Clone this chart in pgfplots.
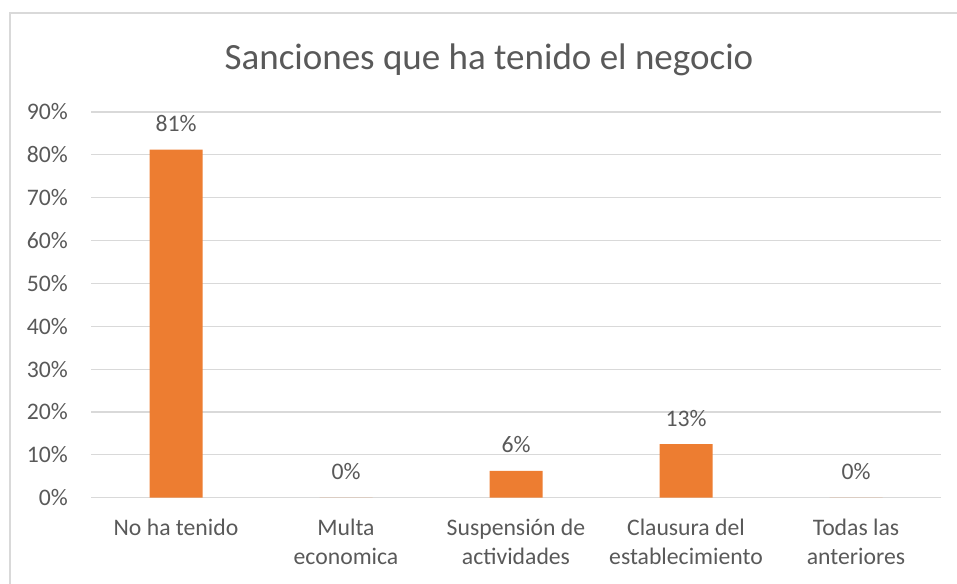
\documentclass[border=0pt]{standalone}
\usepackage{pgfplots}
\pgfplotsset{compat=1.18}
\usepackage{fontspec}
\setmainfont{Carlito}
\definecolor{barorange}{HTML}{ED7D31}
\definecolor{gridgray}{HTML}{D9D9D9}
\definecolor{txtgray}{HTML}{595959}
\begin{document}
\begin{tikzpicture}[x=1pt,y=1pt]
\useasboundingbox (0,0) rectangle (957,583);
\draw[gridgray, line width=1.2pt] (10,-5) -- (10,570) -- (965,570);
\node[anchor=base, inner sep=0pt, text=txtgray, font=\fontsize{37}{44}\selectfont] at (489,513) {Sanciones que ha tenido el negocio};
\begin{axis}[
  at={(91pt,85.3pt)}, anchor=south west,
  scale only axis, width=850pt, height=385.7pt,
  ymin=0, ymax=0.9, xmin=-0.5, xmax=4.5,
  ytick={0,0.1,0.2,0.3,0.4,0.5,0.6,0.7,0.8,0.9},
  yticklabels={0\%,10\%,20\%,30\%,40\%,50\%,60\%,70\%,80\%,90\%},
  xtick={0,1,2,3,4},
  xticklabels={No ha tenido, Multa\\economica, Suspensión de\\actividades, Clausura del\\establecimiento, Todas las\\anteriores},
  ymajorgrids, grid style={gridgray, line width=1.2pt},
  axis line style={draw=none},
  major tick length=0pt,
  tick label style={text=txtgray, font=\fontsize{23.7}{29.5}\selectfont, inner sep=0pt},
  yticklabel style={anchor=east, xshift=-23pt},
  xticklabel style={align=center, anchor=north, yshift=-21pt},
  clip=false,
]
\addplot[ybar, bar width=53pt, fill=barorange, draw=none,
  point meta=explicit symbolic,
  nodes near coords,
  every node near coord/.append style={anchor=base, yshift=18pt, inner sep=0pt, text=txtgray, font=\fontsize{23.7}{29.5}\selectfont},
] coordinates {
  (0,0.8125) [81\%]
  (1,0) [0\%]
  (2,0.0625) [6\%]
  (3,0.125) [13\%]
  (4,0) [0\%]
};
\end{axis}
\end{tikzpicture}
\end{document}
